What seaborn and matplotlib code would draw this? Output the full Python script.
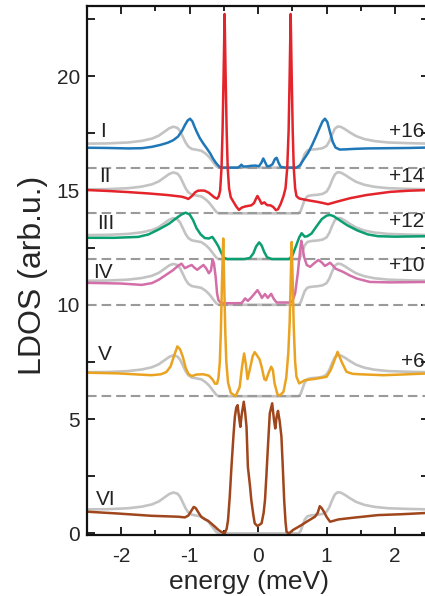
import matplotlib
matplotlib.use("Agg")
import matplotlib.pyplot as plt
import seaborn as sns
import numpy as np
from matplotlib.ticker import MultipleLocator

# ---------------- data (energy in meV, LDOS relative to each curve's offset) ----------------
curve_names = ["I", "II", "III", "IV", "V", "VI"]
offsets = [16, 14, 12, 10, 6, 0]
offset_labels = ["+16", "+14", "+12", "+10", "+6", ""]
colors = ["#1f77b8", "#e3242b", "#0a9e70", "#d36fa8", "#eaa321", "#a0461c"]

ref_curve = [(-2.50, 1.05), (-2.20, 1.06), (-1.90, 1.10), (-1.70, 1.17), (-1.55, 1.27), (-1.45, 1.40),
             (-1.37, 1.57), (-1.30, 1.72), (-1.24, 1.79), (-1.18, 1.74), (-1.14, 1.60), (-1.10, 1.35),
             (-1.06, 1.10), (-1.02, 0.92), (-0.97, 0.82), (-0.90, 0.78), (-0.83, 0.74), (-0.77, 0.62),
             (-0.72, 0.48), (-0.68, 0.33), (-0.64, 0.17), (-0.61, 0.06), (-0.58, 0.00), (0.00, 0.00),
             (0.59, 0.00), (0.62, 0.10), (0.65, 0.35), (0.68, 0.60), (0.72, 0.75), (0.78, 0.79),
             (0.86, 0.81), (0.94, 0.85), (1.00, 0.95), (1.04, 1.15), (1.08, 1.45), (1.12, 1.70),
             (1.16, 1.80), (1.21, 1.78), (1.27, 1.68), (1.34, 1.54), (1.43, 1.38), (1.55, 1.25),
             (1.70, 1.16), (1.90, 1.10), (2.20, 1.07), (2.50, 1.05)]

curve_I = [(-2.50, 0.87), (-2.20, 0.86), (-1.90, 0.84), (-1.70, 0.85), (-1.55, 0.91), (-1.42, 1.00),
           (-1.32, 1.09), (-1.24, 1.20), (-1.17, 1.36), (-1.11, 1.62), (-1.07, 1.86), (-1.03, 2.06),
           (-0.995, 2.14), (-0.96, 2.02), (-0.93, 1.79), (-0.89, 1.52), (-0.85, 1.28), (-0.80, 1.05),
           (-0.75, 0.84), (-0.70, 0.62), (-0.66, 0.40), (-0.62, 0.22), (-0.58, 0.08), (-0.55, 0.00),
           (-0.30, 0.00), (-0.27, 0.05), (-0.245, 0.13), (-0.22, 0.05), (-0.17, 0.05), (-0.10, 0.08),
           (-0.04, 0.09), (0.01, 0.06), (0.045, 0.20), (0.075, 0.40), (0.10, 0.25), (0.13, 0.06),
           (0.17, 0.07), (0.21, 0.15), (0.245, 0.38), (0.27, 0.43), (0.30, 0.20), (0.33, 0.03),
           (0.40, 0.00), (0.56, 0.00), (0.61, 0.10), (0.67, 0.38), (0.73, 0.65), (0.79, 1.00),
           (0.85, 1.40), (0.90, 1.75), (0.94, 2.02), (0.975, 2.14), (1.01, 2.00), (1.05, 1.55),
           (1.09, 1.12), (1.13, 0.88), (1.19, 0.79), (1.28, 0.80), (1.40, 0.82), (1.60, 0.84),
           (1.90, 0.85), (2.20, 0.86), (2.50, 0.88)]

curve_II = [(-2.50, 1.02), (-2.20, 0.98), (-1.90, 0.93), (-1.60, 0.87), (-1.32, 0.80), (-1.12, 0.73),
            (-1.06, 0.68), (-1.02, 0.63), (-0.97, 0.75), (-0.92, 0.92), (-0.88, 0.99), (-0.82, 1.00),
            (-0.78, 0.99), (-0.72, 0.90), (-0.68, 0.80), (-0.64, 0.70), (-0.60, 0.64), (-0.575, 0.75),
            (-0.555, 1.00), (-0.535, 2.00), (-0.52, 3.60), (-0.505, 6.00), (-0.49, 8.72), (-0.475, 6.00),
            (-0.46, 3.60), (-0.445, 2.00), (-0.425, 1.10), (-0.40, 0.70), (-0.36, 0.50), (-0.32, 0.30),
            (-0.28, 0.15), (-0.24, 0.25), (-0.19, 0.30), (-0.14, 0.33), (-0.10, 0.35), (-0.06, 0.45),
            (-0.03, 0.65), (-0.01, 0.76), (0.02, 0.60), (0.05, 0.42), (0.09, 0.48), (0.13, 0.36),
            (0.18, 0.35), (0.22, 0.28), (0.26, 0.14), (0.29, 0.18), (0.33, 0.42), (0.37, 0.75),
            (0.40, 1.10), (0.425, 2.00), (0.445, 3.60), (0.46, 6.00), (0.475, 8.72), (0.49, 6.00),
            (0.505, 3.60), (0.52, 2.00), (0.54, 1.10), (0.56, 0.75), (0.60, 0.65), (0.71, 0.58),
            (0.85, 0.51), (0.95, 0.45), (1.02, 0.40), (1.08, 0.45), (1.15, 0.51), (1.34, 0.66),
            (1.58, 0.80), (1.93, 0.94), (2.20, 0.99), (2.50, 1.02)]

curve_III = [(-2.50, 0.93), (-2.10, 0.93), (-1.75, 0.97), (-1.60, 1.08), (-1.45, 1.30), (-1.30, 1.55),
             (-1.20, 1.78), (-1.12, 1.95), (-1.06, 2.03), (-1.00, 1.95), (-0.95, 1.70), (-0.90, 1.35),
             (-0.84, 1.08), (-0.78, 0.92), (-0.72, 0.90), (-0.67, 0.97), (-0.63, 0.80), (-0.58, 0.55),
             (-0.54, 0.28), (-0.50, 0.06), (-0.45, 0.00), (-0.20, 0.00), (-0.12, 0.05), (-0.07, 0.25),
             (-0.03, 0.55), (0.015, 0.73), (0.05, 0.60), (0.09, 0.30), (0.13, 0.08), (0.20, 0.00),
             (0.45, 0.00), (0.50, 0.15), (0.55, 0.55), (0.60, 0.95), (0.635, 1.13), (0.68, 0.98),
             (0.72, 1.00), (0.78, 1.12), (0.85, 1.42), (0.93, 1.75), (1.00, 1.90), (1.05, 1.93),
             (1.10, 1.88), (1.18, 1.72), (1.30, 1.48), (1.45, 1.25), (1.60, 1.08), (1.75, 1.00),
             (2.00, 0.98), (2.50, 1.00)]

curve_IV = [(-2.50, 0.96), (-2.00, 0.93), (-1.70, 0.87), (-1.55, 0.95), (-1.45, 1.10), (-1.35, 1.30),
            (-1.25, 1.50), (-1.17, 1.70), (-1.12, 1.80), (-1.07, 1.60), (-1.02, 1.68), (-0.97, 1.74),
            (-0.93, 1.62), (-0.89, 1.53), (-0.84, 1.65), (-0.80, 1.74), (-0.76, 1.60), (-0.72, 1.38),
            (-0.69, 1.50), (-0.665, 1.98), (-0.645, 1.80), (-0.62, 1.20), (-0.60, 0.50), (-0.58, 0.20),
            (-0.54, 0.07), (-0.30, 0.07), (-0.24, 0.08), (-0.19, 0.28), (-0.15, 0.17), (-0.10, 0.32),
            (-0.05, 0.50), (-0.01, 0.64), (0.03, 0.45), (0.055, 0.30), (0.10, 0.47), (0.14, 0.30),
            (0.19, 0.48), (0.23, 0.25), (0.27, 0.10), (0.45, 0.10), (0.50, 0.15), (0.54, 0.50),
            (0.58, 1.40), (0.61, 2.30), (0.63, 2.80), (0.65, 2.50), (0.67, 2.10), (0.71, 1.74),
            (0.76, 1.66), (0.82, 1.82), (0.88, 1.96), (0.93, 1.85), (0.975, 1.70), (1.02, 1.78),
            (1.05, 1.84), (1.09, 1.72), (1.13, 1.58), (1.24, 1.44), (1.34, 1.28), (1.44, 1.15),
            (1.63, 1.00), (1.93, 0.98), (2.50, 1.00)]

curve_V = [(-2.50, 1.03), (-2.05, 1.00), (-1.75, 0.95), (-1.56, 0.92), (-1.42, 0.96), (-1.34, 1.06),
           (-1.28, 1.30), (-1.23, 1.75), (-1.18, 2.18), (-1.14, 2.05), (-1.10, 1.72), (-1.06, 1.25),
           (-1.02, 0.98), (-0.97, 0.88), (-0.90, 0.95), (-0.80, 0.96), (-0.72, 0.90), (-0.67, 0.75),
           (-0.63, 0.55), (-0.60, 0.55), (-0.58, 0.80), (-0.56, 1.50), (-0.545, 2.80), (-0.53, 4.80),
           (-0.51, 6.90), (-0.495, 4.80), (-0.48, 2.80), (-0.465, 1.50), (-0.44, 0.60), (-0.40, 0.15),
           (-0.33, 0.00), (-0.27, 0.40), (-0.235, 1.30), (-0.205, 1.87), (-0.18, 1.40), (-0.155, 0.75),
           (-0.12, 1.20), (-0.08, 1.75), (-0.05, 1.93), (-0.02, 1.80), (0.02, 1.62), (0.05, 1.30),
           (0.09, 0.75), (0.115, 0.70), (0.15, 1.00), (0.19, 1.29), (0.215, 1.15), (0.24, 0.56),
           (0.28, 0.10), (0.31, 0.02), (0.37, 0.19), (0.41, 0.80), (0.44, 1.87), (0.46, 3.20),
           (0.475, 5.00), (0.49, 6.75), (0.505, 5.00), (0.52, 3.00), (0.54, 1.50), (0.56, 0.85),
           (0.60, 0.56), (0.68, 0.70), (0.85, 0.77), (1.00, 0.85), (1.06, 1.15), (1.10, 1.45),
           (1.16, 1.94), (1.22, 1.50), (1.29, 1.07), (1.38, 0.98), (1.49, 0.96), (1.83, 0.92),
           (2.10, 0.95), (2.50, 1.00)]

curve_VI = [(-2.50, 0.95), (-2.05, 0.87), (-1.56, 0.77), (-1.17, 0.73), (-1.07, 0.70), (-1.02, 0.78),
            (-0.97, 1.02), (-0.94, 1.16), (-0.91, 1.10), (-0.88, 0.95), (-0.83, 0.72), (-0.78, 0.62),
            (-0.73, 0.55), (-0.68, 0.42), (-0.63, 0.29), (-0.58, 0.15), (-0.54, 0.07), (-0.49, 0.00),
            (-0.46, 0.20), (-0.44, 0.58), (-0.415, 1.60), (-0.39, 2.91), (-0.36, 4.30), (-0.34, 5.10),
            (-0.32, 5.50), (-0.30, 5.61), (-0.28, 5.10), (-0.26, 4.66), (-0.24, 5.20), (-0.21, 5.76),
            (-0.19, 5.30), (-0.17, 4.66), (-0.16, 3.80), (-0.15, 2.91), (-0.12, 2.10), (-0.10, 1.46),
            (-0.07, 0.80), (-0.05, 0.44), (-0.01, 0.32), (0.05, 0.44), (0.08, 0.90), (0.10, 1.46),
            (0.12, 2.50), (0.14, 3.64), (0.17, 5.25), (0.205, 5.69), (0.23, 5.00), (0.25, 4.59),
            (0.27, 5.10), (0.29, 5.36), (0.315, 4.90), (0.34, 4.23), (0.36, 2.90), (0.38, 1.46),
            (0.40, 0.50), (0.415, 0.07), (0.45, 0.00), (0.51, 0.15), (0.63, 0.36), (0.73, 0.55),
            (0.83, 0.73), (0.87, 0.90), (0.90, 1.19), (0.93, 1.10), (0.96, 0.95), (1.00, 0.72),
            (1.05, 0.51), (1.10, 0.55), (1.17, 0.61), (1.37, 0.68), (1.75, 0.80), (2.10, 0.84),
            (2.50, 0.90)]

curves = [curve_I, curve_II, curve_III, curve_IV, curve_V, curve_VI]

x_ticks = [-2, -1, 0, 1, 2]
y_ticks = [0, 5, 10, 15, 20]

# ---------------- style ----------------
sns.set_style("ticks")
plt.rcParams["font.family"] = ["Liberation Sans", "DejaVu Sans"]
plt.rcParams["axes.unicode_minus"] = False

fig = plt.figure(figsize=(4.25, 5.96), dpi=100)
W, H = 425.0, 596.0
ax = fig.add_axes([87 / W, (H - 535) / H, (429.3 - 87) / W, (535 - 6) / H])

ref_E = np.array([p[0] for p in ref_curve])
ref_L = np.array([p[1] for p in ref_curve])

for off in offsets:
    sns.lineplot(x=ref_E, y=ref_L + off, ax=ax, color="#c3c3c3", linewidth=1.9,
                 sort=False, estimator=None, zorder=1)
    if off > 0:
        ax.axhline(off, color="#9a9a9a", linewidth=1.5, linestyle=(0, (4.6, 2.4)), zorder=1.5)

for name, pts, off, col, olab in zip(curve_names, curves, offsets, colors, offset_labels):
    E = np.array([p[0] for p in pts])
    L = np.array([p[1] for p in pts])
    sns.lineplot(x=E, y=L + off, ax=ax, color=col, linewidth=1.8, sort=False,
                 estimator=None, zorder=2)

# curve labels (roman numerals)
label_pos = {"I": (-2.26, 17.6), "II": (-2.24, 15.59), "III": (-2.22, 13.57),
             "IV": (-2.26, 11.43), "V": (-2.24, 7.81), "VI": (-2.22, 1.5)}
for name in curve_names:
    x, y = label_pos[name]
    ax.text(x, y, name, fontsize=15, ha="center", va="center", color="#222222", zorder=3)

offset_y = {"+16": 17.6, "+14": 15.6, "+12": 13.63, "+10": 11.7, "+6": 7.5}
for olab in offset_labels:
    if olab:
        ax.text(2.43, offset_y[olab], olab, fontsize=15, ha="right", va="center",
                color="#222222", zorder=3)

ax.set_xlim(-2.5, 2.5)
ax.set_ylim(-0.07, 23.07)
ax.set_xticks(x_ticks)
ax.set_yticks(y_ticks)
ax.xaxis.set_minor_locator(MultipleLocator(0.5))
ax.yaxis.set_minor_locator(MultipleLocator(2.5))
ax.tick_params(which="both", direction="in", top=True, right=True, width=1.4, color="#222222")
ax.tick_params(axis="x", which="major", length=6, labelsize=15, pad=9)
ax.tick_params(axis="x", which="minor", length=3.5)
ax.tick_params(axis="y", which="both", length=6, labelsize=15, pad=5)
for s in ax.spines.values():
    s.set_linewidth(1.6)
    s.set_color("#111111")

ax.set_xlabel("energy (meV)", fontsize=19, va="center")
ax.set_ylabel("LDOS (arb.u.)", fontsize=23, va="center")
ax.xaxis.set_label_coords((249 - 87) / 342.3, (535 - 582) / 529)
ax.yaxis.set_label_coords((33 - 87) / 342.3, 0.49)

fig.savefig("out.png", dpi=100)
